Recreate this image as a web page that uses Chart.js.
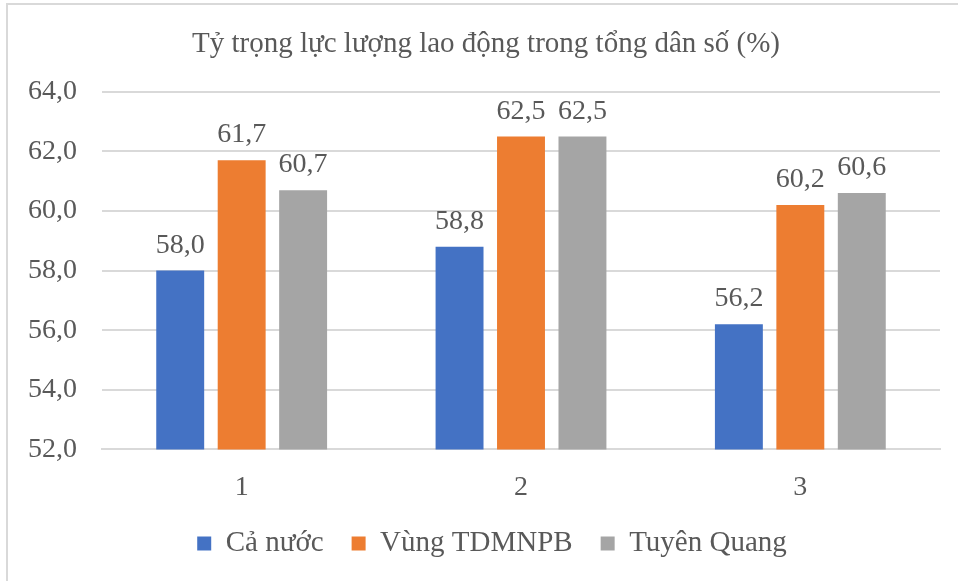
<!DOCTYPE html>
<html>
<head>
<meta charset="utf-8">
<script src="https://cdn.jsdelivr.net/npm/chart.js@4/dist/chart.umd.min.js"></script>
<style>
html,body{margin:0;padding:0;background:#fff;overflow:hidden;}
#wrap{position:relative;width:958px;height:581px;}
#frame{position:absolute;left:6px;top:3px;width:1000px;height:700px;border:2px solid #d9d9d9;box-sizing:border-box;pointer-events:none;}
canvas{position:absolute;left:0;top:0;}
</style>
</head>
<body>
<div id="wrap">
<canvas id="c" width="958" height="581"></canvas>
<div id="frame"></div>
</div>
<script>
const title = "Tỷ trọng lực lượng lao động trong tổng dân số (%)";
const categories = ["1", "2", "3"];
const seriesNames = ["Cả nước", "Vùng TDMNPB", "Tuyên Quang"];
const caNuoc = [58.0, 58.8, 56.2];
const vungTDMNPB = [61.7, 62.5, 60.2];
const tuyenQuang = [60.7, 62.5, 60.6];
const yMin = 52, yMax = 64, yStep = 2;

const colors = ["#4472C4", "#ED7D31", "#A5A5A5"];
const textColor = "#595959";
const fontFam = '"Liberation Serif", "Times New Roman", serif';
const fmt = v => v.toFixed(1).replace('.', ',');

Chart.defaults.font.family = fontFam;

const labelPlugin = {
  id: 'barLabels',
  afterDatasetsDraw(chart) {
    const ctx = chart.ctx;
    ctx.save();
    ctx.font = '28px "Liberation Serif", serif';
    ctx.fillStyle = textColor;
    ctx.textAlign = 'center';
    ctx.textBaseline = 'alphabetic';
    chart.data.datasets.forEach((ds, i) => {
      const meta = chart.getDatasetMeta(i);
      meta.data.forEach((el, j) => {
        ctx.fillText(fmt(ds.data[j]), el.x, el.y - 18);
      });
    });
    ctx.restore();
  }
};

// layout tweaks: tighter space above legend row, title/legend centred on the frame
const LEGEND_TRIM = 16;
const layoutTweak = {
  id: 'layoutTweak',
  beforeUpdate(chart) {
    const lg = chart.legend;
    if (lg && !lg._trimmed) {
      const proto = Object.getPrototypeOf(lg);
      lg.fit = function () { proto.fit.call(this); this.height -= LEGEND_TRIM; };
      lg._trimmed = true;
    }
  },
  afterLayout(chart) {
    const lg = chart.legend;
    if (lg) { lg.top -= LEGEND_TRIM; lg.height += LEGEND_TRIM; lg.left += 41; }
    const tb = chart.titleBlock;
    if (tb) { tb.left += 29; }
  }
};

function draw() {
  new Chart(document.getElementById('c'), {
    type: 'bar',
    data: {
      labels: categories,
      datasets: [
        { label: seriesNames[0], data: caNuoc, backgroundColor: colors[0], borderWidth: 0 },
        { label: seriesNames[1], data: vungTDMNPB, backgroundColor: colors[1], borderWidth: 0 },
        { label: seriesNames[2], data: tuyenQuang, backgroundColor: colors[2], borderWidth: 0 }
      ]
    },
    options: {
      responsive: false,
      animation: false,
      devicePixelRatio: 1,
      layout: { padding: { left: 3, right: 18, top: 27, bottom: 13 } },
      datasets: { bar: { categoryPercentage: 0.66, barPercentage: 0.78 } },
      plugins: {
        title: {
          display: true, text: title, color: textColor,
          font: { family: fontFam, size: 29, weight: 'normal' },
          padding: { top: 0, bottom: 30 }
        },
        legend: {
          position: 'bottom',
          labels: {
            color: textColor,
            font: { family: fontFam, size: 29 },
            boxWidth: 14, boxHeight: 14, padding: 28
          }
        },
        tooltip: { enabled: false }
      },
      scales: {
        x: {
          grid: { display: false },
          border: { display: true, color: '#d9d9d9', width: 2 },
          ticks: { color: textColor, font: { family: fontFam, size: 28 }, padding: 13 }
        },
        y: {
          min: yMin, max: yMax,
          border: { display: false },
          grid: { color: '#d9d9d9', lineWidth: 2, drawTicks: false },
          ticks: { stepSize: yStep, color: textColor, font: { family: fontFam, size: 28 }, padding: 25, callback: v => fmt(v) }
        }
      }
    },
    plugins: [labelPlugin, layoutTweak]
  });
}
if (document.fonts && document.fonts.load) {
  document.fonts.load('28px "Liberation Serif"').then(draw, draw);
} else { draw(); }
</script>
</body>
</html>
